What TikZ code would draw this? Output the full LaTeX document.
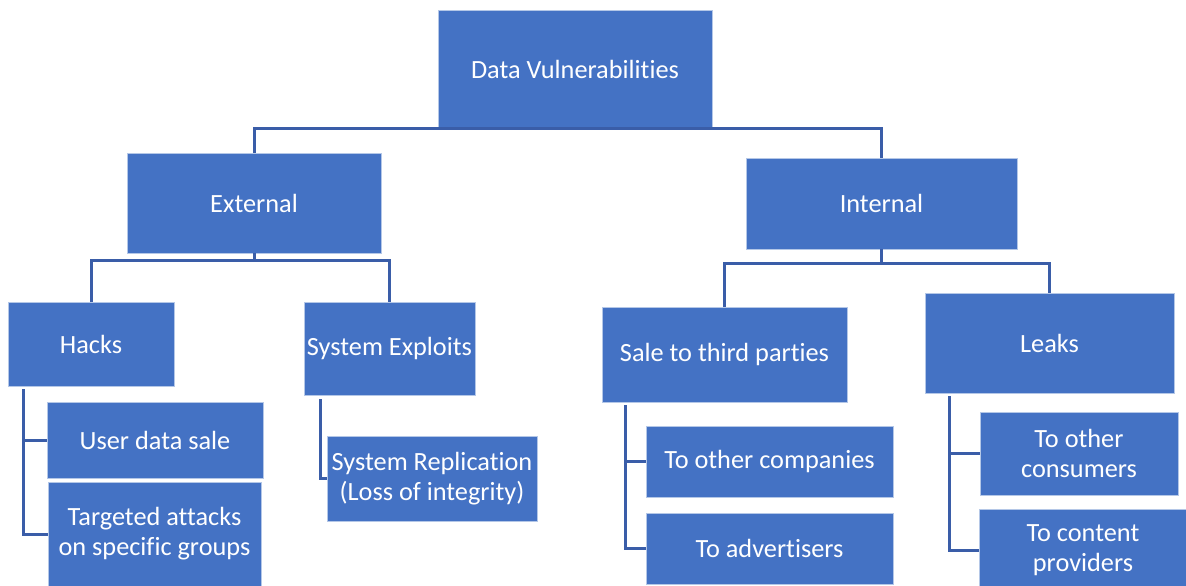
\documentclass[tikz,border=0pt]{standalone}
\usepackage{fontspec}
\setmainfont{Carlito}[Ligatures=NoCommon,RawFeature={-liga;-clig;-dlig}]
\definecolor{boxblue}{HTML}{4472C4}
\definecolor{edgeblue}{HTML}{B4C7E7}
\definecolor{linkblue}{HTML}{3A5DA8}
\begin{document}
\begin{tikzpicture}[x=1pt,y=1pt,
  box/.style={rectangle, fill=boxblue, draw=edgeblue, line width=0.8pt, inner sep=0pt, outer sep=0pt,
    text=white, align=center, font=\fontsize{26.3}{30}\selectfont},
  link/.style={draw=linkblue, line width=3pt}]
\useasboundingbox (0,0) rectangle (1186,-586);
\clip (0,0) rectangle (1186,-586);
% nodes
\node[box, minimum width=274, minimum height=118] (root) at (575,-69) {Data Vulnerabilities};
\node[box, minimum width=254, minimum height=100] (ext) at (254,-203) {External};
\node[box, minimum width=271, minimum height=91] (int) at (881.5,-203.5) {Internal};
\node[box, minimum width=166, minimum height=84] (hacks) at (91,-344) {Hacks};
\node[box, minimum width=171, minimum height=93] (sysexp) at (389.5,-348.5) {System Exploits};
\node[box, minimum width=245, minimum height=95] (sale) at (724.5,-354.5) {Sale to third parties};
\node[box, minimum width=249, minimum height=100] (leaks) at (1049.5,-343) {Leaks};
\node[box, minimum width=216, minimum height=76] (uds) at (155,-440) {User data sale};
\node[box, minimum width=213, minimum height=104] (targ) at (154.5,-534) {Targeted attacks\\on specific groups};
\node[box, minimum width=210, minimum height=85] (sysrep) at (432,-478.5) {System Replication\\(Loss of integrity)};
\node[box, minimum width=247, minimum height=71] (toc) at (769.5,-461.5) {To other companies};
\node[box, minimum width=247, minimum height=71] (toadv) at (769.5,-548.5) {To advertisers};
\node[box, minimum width=198, minimum height=83] (tocons) at (1079,-453.5) {To other\\consumers};
\node[box, minimum width=208, minimum height=83] (tocp) at (1083,-550.5) {To content\\providers};
% connectors
\draw[link] (ext.north) |- (root.south) -| (int.north);
\coordinate (eb) at ([yshift=-7pt]ext.south);
\draw[link] (ext.south) -- (eb);
\draw[link] (hacks.north) |- (eb) -| (sysexp.north);
\coordinate (ib) at ([yshift=-14pt]int.south);
\draw[link] (int.south) -- (ib);
\draw[link] (sale.north) |- (ib) -| (leaks.north);
\coordinate (hb) at ([xshift=15pt,yshift=-3pt]hacks.south west);
\draw[link] (hb) |- (uds.west);
\draw[link] (hb) |- (targ.west);
\coordinate (sb) at ([xshift=16pt,yshift=-4pt]sysexp.south west);
\draw[link] (sb) |- (sysrep.west);
\coordinate (pb) at ([xshift=23pt,yshift=-3pt]sale.south west);
\draw[link] (pb) |- (toc.west);
\draw[link] (pb) |- (toadv.west);
\coordinate (lb) at ([xshift=24pt,yshift=-3pt]leaks.south west);
\draw[link] (lb) |- (tocons.west);
\draw[link] (lb) |- (tocp.west);
\end{tikzpicture}
\end{document}
